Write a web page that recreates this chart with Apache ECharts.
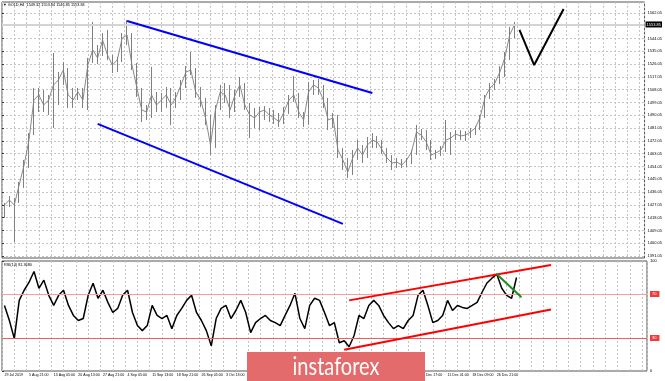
<!DOCTYPE html>
<html><head><meta charset="utf-8">
<script src="https://cdn.jsdelivr.net/npm/echarts@6/dist/echarts.min.js"></script>
<style>html,body{margin:0;padding:0;background:#fff}#c{width:665px;height:381px}</style>
</head><body><div id="c"></div>
<script>
const tickLabels = ['29 Jul 2019','5 Aug 21:00','13 Aug 05:00','20 Aug 13:00','27 Aug 21:00','4 Sep 05:00','11 Sep 13:00','18 Sep 21:00','26 Sep 05:00','3 Oct 13:00','10 Oct 21:00','18 Oct 05:00','25 Oct 13:00','1 Nov 21:00','11 Nov 17:00','19 Nov 01:00','26 Nov 09:00','3 Dec 17:00','11 Dec 01:00','18 Dec 09:00','26 Dec 21:00'];

const opens = [1422.0,1426.9,1429.0,1430.4,1441.0,1456.4,1479.6,1500.7,1504.3,1497.2,
1500.7,1511.3,1514.8,1520.4,1504.3,1504.3,1506.4,1499.3,1527.4,1535.9,
1532.4,1542.9,1530.3,1525.3,1530.3,1542.9,1544.3,1525.3,1507.8,1493.7,
1492.3,1504.3,1497.2,1500.7,1504.3,1497.2,1502.9,1511.3,1520.4,1521.8,
1506.4,1500.7,1488.1,1469.1,1495.1,1506.4,1504.3,1493.7,1504.3,1511.3,
1497.2,1490.2,1488.1,1492.3,1493.7,1490.2,1488.1,1485.3,1492.3,1500.7,
1504.3,1492.3,1486.7,1506.4,1511.3,1509.2,1500.7,1486.7,1488.1,1465.6,
1458.6,1450.1,1460.0,1467.0,1462.1,1469.1,1472.6,1471.2,1465.6,1460.0,
1456.4,1457.1,1455.0,1458.6,1464.2,1478.2,1476.1,1471.2,1462.1,1463.5,
1465.6,1472.6,1474.0,1476.8,1475.4,1476.1,1478.2,1481.1,1488.8,1502.9,
1509.2,1512.7,1520.4,1530.3,1546.4];

const closes = [1426.9,1430.4,1426.9,1441.0,1455.0,1472.6,1500.7,1504.3,1497.2,1500.7,
1511.3,1514.8,1521.8,1504.3,1500.7,1506.4,1500.7,1525.3,1535.9,1530.3,
1542.9,1532.4,1525.3,1528.9,1544.3,1546.4,1525.3,1509.2,1493.7,1492.3,
1504.3,1497.2,1500.7,1504.3,1497.2,1502.9,1511.3,1520.4,1521.8,1506.4,
1500.7,1488.1,1469.1,1493.7,1506.4,1504.3,1493.7,1504.3,1511.3,1497.2,
1490.2,1488.1,1492.3,1493.7,1490.2,1488.1,1485.3,1492.3,1500.7,1504.3,
1492.3,1486.7,1506.4,1511.3,1509.2,1500.7,1486.7,1488.1,1465.6,1458.6,
1450.1,1460.0,1467.0,1462.1,1469.1,1472.6,1471.2,1465.6,1460.0,1456.4,
1457.1,1455.0,1458.6,1464.2,1478.2,1476.1,1471.2,1462.1,1463.5,1465.6,
1472.6,1474.0,1476.8,1475.4,1476.1,1478.2,1481.1,1488.8,1502.9,1509.2,
1512.7,1520.4,1530.3,1546.4,1553.85];

const lows = [1417.8,1425.5,1400.9,1428.3,1438.9,1452.9,1476.1,1492.3,1492.3,1490.2,
1481.1,1497.2,1511.3,1495.1,1495.1,1500.7,1495.1,1493.7,1526.7,1526.0,
1531.7,1528.9,1519.7,1520.4,1527.4,1539.4,1521.8,1502.9,1485.3,1486.7,
1488.1,1492.3,1492.3,1495.1,1483.2,1495.1,1500.7,1509.2,1518.3,1502.2,
1495.8,1483.2,1462.1,1467.0,1493.7,1498.6,1488.1,1492.3,1502.9,1493.7,
1474.0,1481.1,1479.6,1486.7,1485.3,1483.9,1481.8,1483.9,1490.9,1499.3,
1488.1,1481.8,1483.2,1504.3,1504.3,1495.1,1479.6,1481.1,1460.0,1451.5,
1445.9,1448.0,1458.6,1456.4,1460.0,1467.0,1467.0,1462.8,1456.4,1451.5,
1452.9,1452.9,1453.6,1455.7,1462.1,1472.6,1465.6,1458.6,1459.3,1461.4,
1464.2,1462.1,1472.6,1472.6,1471.9,1474.0,1476.1,1479.6,1488.1,1501.4,
1507.8,1512.0,1516.9,1528.9,1544.3];

const highs = [1428.3,1433.2,1431.8,1443.1,1458.6,1477.5,1509.2,1509.2,1507.8,1504.3,
1533.8,1520.4,1527.4,1523.2,1509.2,1509.2,1509.2,1530.3,1555.6,1539.4,
1547.8,1550.0,1532.4,1531.0,1547.8,1557.0,1547.8,1526.7,1509.2,1497.2,
1524.0,1506.4,1505.7,1509.9,1509.2,1506.4,1514.8,1524.6,1534.5,1523.2,
1509.9,1502.2,1490.2,1497.2,1511.3,1512.7,1511.3,1507.8,1516.9,1512.7,
1498.6,1495.1,1495.8,1496.5,1495.1,1493.7,1491.6,1495.8,1504.3,1517.6,
1505.7,1492.3,1513.4,1514.8,1515.5,1511.3,1502.2,1491.6,1490.2,1467.0,
1460.0,1465.6,1472.6,1469.1,1474.7,1477.5,1475.4,1472.6,1467.0,1462.1,
1460.0,1459.3,1460.0,1465.6,1483.2,1480.3,1479.6,1472.6,1465.6,1468.4,
1486.7,1478.2,1479.6,1479.6,1478.9,1481.1,1482.5,1490.2,1504.3,1512.7,
1515.5,1524.6,1534.5,1552.1,1555.6];

const rsiValues = [59.6,45.9,29.4,64.2,73.4,80.7,90.5,75.2,82.6,68.8,
59.6,68.8,73.4,59.6,50.5,45.9,47.7,68.8,79.8,66.1,
73.4,62.4,53.2,56.9,68.8,73.4,53.2,41.3,36.7,41.3,
59.6,50.5,47.7,50.5,38.5,50.5,56.9,64.2,68.8,53.2,
45.9,36.7,22.9,47.7,56.9,59.6,47.7,55.0,64.2,53.2,
34.9,44.0,47.7,50.5,45.9,44.0,41.3,50.5,59.6,70.6,
47.7,38.5,59.6,66.1,64.2,53.2,41.3,44.0,25.7,27.5,
22.0,32.1,50.5,47.7,59.6,64.2,59.6,50.5,44.0,38.5,
41.3,38.5,45.9,50.5,68.8,73.4,59.6,44.0,45.9,50.5,
64.2,55.0,59.6,57.8,56.9,59.6,62.4,71.6,80.0,84.4,
88.0,75.2,68.8,66.1,85.0];

const priceTicks = [1391.05,1400.05,1409.05,1418.05,1427.05,1436.05,1445.05,1454.05,1463.05,1472.05,1481.05,1490.05,1499.05,1508.05,1517.05,1526.05,1535.05,1544.05,1562.05];
const rsiTicks = [0,30,70,100];
const rsiLevels = [70,30];
const upperChannel = [[25,1556.3],[75,1505.7]];
const lowerChannel = [[19,1483.9],[69,1413.6]];
const projection = [[105,1550.0],[108,1525.3],[114,1564.7]];
const rsiUpper = [[70,64.2],[111,96.3]];
const rsiLower = [[69,19.3],[111,56.0]];
const rsiGreen = [[100,88.0],[105,67.0]];
const lastPrice = 1553.85;
const slotCount = 131;

const categories = [];
for (let i = 0; i < slotCount; i++) categories.push(String(i));
const candleData = opens.map((o, i) => [o, closes[i], lows[i], highs[i]]);

const gridLine = {show:true, lineStyle:{color:'#c4c4c4', width:1, type:[2,2]}};
const font = 'Liberation Sans';

const chart = echarts.init(document.getElementById('c'), null, {renderer:'canvas'});
chart.setOption({
  animation:false,
  backgroundColor:'#ffffff',
  grid:[
    {left:2, right:18, top:2, height:256, show:true, borderColor:'#555', borderWidth:1, backgroundColor:'transparent'},
    {left:2, right:18, top:261, height:110, show:true, borderColor:'#555', borderWidth:1, backgroundColor:'transparent'}
  ],
  xAxis:[
    {type:'category', gridIndex:0, data:categories, boundaryGap:true, axisLine:{show:false}, axisTick:{show:false}, axisLabel:{show:false}, splitLine:{show:false}},
    {type:'category', gridIndex:1, data:categories, boundaryGap:true, axisLine:{show:false}, axisTick:{show:false}, splitLine:{show:false},
     axisLabel:{show:true, interval:0, margin:2, align:'left', fontSize:3.6, fontFamily:font, color:'#000',
       formatter:(v, idx) => (idx % 5 === 0 && tickLabels[idx/5]) ? tickLabels[idx/5] : ''}},
    {type:'value', gridIndex:0, min:0, max:slotCount/2.5, interval:1, axisLine:{show:false}, axisTick:{show:false}, axisLabel:{show:false}, splitLine:gridLine},
    {type:'value', gridIndex:1, min:0, max:slotCount/2.5, interval:1, axisLine:{show:false}, axisTick:{show:false}, axisLabel:{show:false}, splitLine:gridLine}
  ],
  yAxis:[
    {type:'value', gridIndex:0, position:'right', min:1389.64, max:1569.64, scale:true,
     axisLine:{show:false},
     axisTick:{show:true, length:2, customValues:priceTicks, lineStyle:{color:'#333'}},
     axisLabel:{show:true, customValues:priceTicks, margin:3, fontSize:4, fontFamily:font, color:'#000', formatter:v => v.toFixed(2)},
     splitLine:gridLine},
    {type:'value', gridIndex:1, position:'right', min:0, max:100,
     axisLine:{show:false},
     axisTick:{show:true, length:2, customValues:rsiTicks, lineStyle:{color:'#333'}},
     axisLabel:{show:true, customValues:rsiTicks, margin:3, fontSize:4, fontFamily:font, color:'#000',
       formatter:v => (v === 70 || v === 30) ? '{r|' + v + '}' : String(v),
       rich:{r:{backgroundColor:'#f03c3c', color:'#fff', fontSize:4, fontFamily:font, padding:[1,3,1,2]}}},
     splitLine:{show:false}}
  ],
  series:[
    {type:'line', xAxisIndex:0, yAxisIndex:0, data:closes, symbol:'none', lineStyle:{color:'#8a8a8a', width:1}, z:2},
    {type:'candlestick', xAxisIndex:0, yAxisIndex:0, data:candleData, barWidth:1, z:3,
     itemStyle:{color:'#808080', color0:'#808080', borderColor:'#808080', borderColor0:'#808080', borderWidth:1},
     markLine:{silent:true, symbol:['none','none'], animation:false,
       lineStyle:{color:'#d4d4d4', width:2, type:'solid'},
       label:{show:true, position:'end', distance:1, formatter:lastPrice.toFixed(2), color:'#fff', backgroundColor:'#000', fontSize:4, fontFamily:font, padding:[1,1,1,1]},
       data:[{yAxis:lastPrice}]}},
    {type:'line', xAxisIndex:0, yAxisIndex:0, data:upperChannel, symbol:'none', lineStyle:{color:'#0000ff', width:2}, z:5},
    {type:'line', xAxisIndex:0, yAxisIndex:0, data:lowerChannel, symbol:'none', lineStyle:{color:'#0000ff', width:2}, z:5},
    {type:'line', xAxisIndex:0, yAxisIndex:0, data:projection, symbol:'none', lineStyle:{color:'#000', width:2}, z:5},
    {type:'line', xAxisIndex:1, yAxisIndex:1, data:rsiValues, symbol:'none', lineStyle:{color:'#000', width:1.5}, z:4,
     markLine:{silent:true, symbol:['none','none'], animation:false, label:{show:false},
       data:rsiLevels.map((lv, k) => ({yAxis:lv, lineStyle:{color: k === 0 ? '#f5a0a0' : '#ee6060', width:1, type:'solid'}}))}},
    {type:'line', xAxisIndex:1, yAxisIndex:1, data:rsiUpper, symbol:'none', lineStyle:{color:'#ff0000', width:2}, z:5},
    {type:'line', xAxisIndex:1, yAxisIndex:1, data:rsiLower, symbol:'none', lineStyle:{color:'#ff0000', width:2}, z:5},
    {type:'line', xAxisIndex:1, yAxisIndex:1, data:rsiGreen, symbol:'none', lineStyle:{color:'#1e8c1e', width:2}, z:6}
  ],
  graphic:[
    {type:'text', x:3, y:3, z:100, style:{text:'\u25BC GOLD,H4  1549.32 1553.84 1546.85 1553.84', fill:'#000', fontSize:3.8, fontFamily:font}},
    {type:'text', x:4, y:263, z:100, style:{text:'RSI(14) 81.3680', fill:'#000', fontSize:3.8, fontFamily:font}},
    {type:'rect', z:100, shape:{x:247, y:352, width:178, height:30}, style:{fill:'#e36b6b'}},
    {type:'text', z:101, x:336, y:367, scaleX:0.8,
     style:{text:'instaforex', fill:'#ffffff', fontSize:25, fontFamily:'Lato', textAlign:'center', textVerticalAlign:'middle', align:'center', verticalAlign:'middle'}}
  ]
});
</script>
</body></html>
